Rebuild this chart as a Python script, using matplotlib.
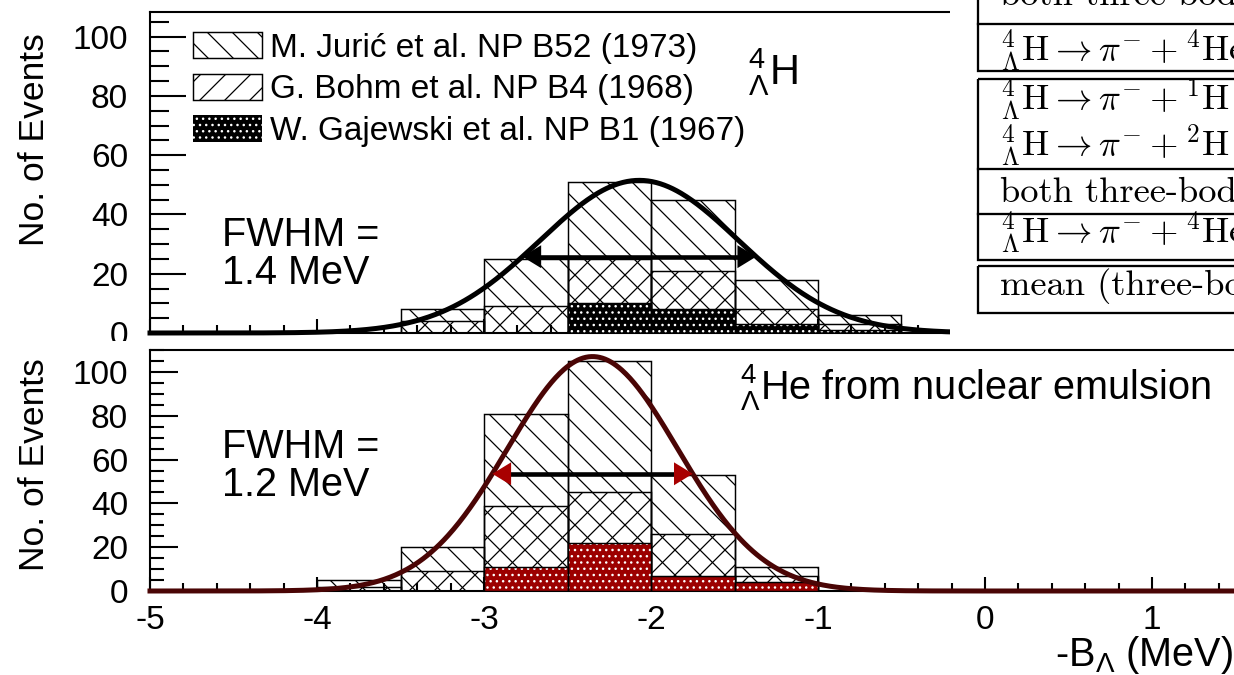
import numpy as np
import matplotlib
matplotlib.use("Agg")
import matplotlib.pyplot as plt
from matplotlib.patches import Rectangle
from matplotlib.ticker import MultipleLocator

# Binding energy bins (MeV), 0.5 MeV wide
bin_left = [-4.0, -3.5, -3.0, -2.5, -2.0, -1.5, -1.0]
bin_width = 0.5

# 4-Lambda-H: events per bin for each emulsion experiment
h_juric = [0, 4, 16, 26, 24, 10, 3]
h_bohm = [0, 4, 9, 15, 13, 5, 2]
h_gajewski = [0, 0, 0, 10, 8, 3, 1]

# 4-Lambda-He: events per bin for each emulsion experiment
he_juric = [3, 11, 42, 60, 27, 4, 0]
he_bohm = [2, 9, 28, 23, 19, 3, 0]
he_gajewski = [0, 0, 11, 22, 7, 4, 0]

# Gaussian fits: mean, peak height, FWHM
h_fit = (-2.07, 51.5, 1.4)
he_fit = (-2.35, 107.0, 1.2)

labels = ["M. Jurić et al. NP B52 (1973)",
          "G. Bohm et al. NP B4 (1968)",
          "W. Gajewski et al. NP B1 (1967)"]

plt.rcParams["font.family"] = "Liberation Sans"
plt.rcParams["mathtext.fontset"] = "custom"
plt.rcParams["mathtext.rm"] = "Liberation Sans"
plt.rcParams["mathtext.it"] = "Liberation Sans:italic"
plt.rcParams["hatch.linewidth"] = 0.6
plt.rcParams["axes.unicode_minus"] = False

W, H = 1235, 675
DPI = 150
fig = plt.figure(figsize=(W / DPI, H / DPI), dpi=DPI)


def px_axes(x0, y0, x1, y1):
    return fig.add_axes([x0 / W, 1 - y1 / H, (x1 - x0) / W, (y1 - y0) / H])


XMIN, XMAX = -5, 1.6
x_right = 150 + (XMAX - XMIN) * 167
ax_top = px_axes(150, 12, x_right, 333)
ax_bot = px_axes(150, 350, x_right, 591)


def draw_panel(ax, juric, bohm, gaj, fit, dot_color, curve_color, head_color):
    lower = np.asarray(gaj)
    middle = lower + np.asarray(bohm)
    total = middle + np.asarray(juric)
    centers = np.asarray(bin_left) + bin_width / 2

    b1 = ax.bar(centers, total, width=bin_width, fill=False, hatch="\\\\",
                edgecolor="black", lw=0.7, zorder=2)
    b2 = ax.bar(centers, middle, width=bin_width, fill=False, hatch="//",
                edgecolor="black", lw=0.7, zorder=2)
    b3 = ax.bar(centers, lower, width=bin_width, facecolor=dot_color,
                edgecolor="white", hatch="....", lw=0, zorder=3)
    ax.bar(centers, lower, width=bin_width, fill=False, edgecolor="black",
           lw=0.7, zorder=3)

    mu, amp, fwhm = fit
    sigma = fwhm / (2 * np.sqrt(2 * np.log(2)))
    xs = np.linspace(XMIN, XMAX, 800)
    ax.plot(xs, amp * np.exp(-0.5 * ((xs - mu) / sigma) ** 2),
            color=curve_color, lw=2.4, zorder=5, clip_on=False)

    # FWHM arrow at half maximum
    half = amp / 2
    xl, xr = mu - fwhm / 2, mu + fwhm / 2
    ax.plot([xl + 0.08, xr - 0.08], [half, half], color="black", lw=2.2,
            zorder=6, solid_capstyle="butt")
    for tip, tail in ((xl, xl + 0.2), (xr, xr - 0.2)):
        ax.annotate("", xy=(tip, half), xytext=(tail, half),
                    arrowprops=dict(arrowstyle="-|>,head_length=0.9,head_width=0.55",
                                    mutation_scale=10, fc=head_color, ec=head_color,
                                    lw=0, shrinkA=0, shrinkB=0), zorder=7)
    return b1, b2, b3


bars = draw_panel(ax_top, h_juric, h_bohm, h_gajewski, h_fit,
                  "black", "black", "black")
draw_panel(ax_bot, he_juric, he_bohm, he_gajewski, he_fit,
           "#9c0000", "#4a0505", "#a80000")

for ax, ymax, major_len, minor_len in ((ax_top, 108.3, 17.5, 9), (ax_bot, 110, 13.5, 6.7)):
    ax.set_xlim(XMIN, XMAX)
    ax.set_ylim(0, ymax)
    ax.xaxis.set_major_locator(MultipleLocator(1))
    ax.xaxis.set_minor_locator(MultipleLocator(0.2))
    ax.yaxis.set_major_locator(MultipleLocator(20))
    ax.yaxis.set_minor_locator(MultipleLocator(5))
    ax.tick_params(which="both", direction="in", width=1.0, top=False, right=False)
    ax.tick_params(axis="y", which="major", length=major_len, labelsize=16, pad=10.5)
    ax.tick_params(axis="y", which="minor", length=minor_len)
    ax.tick_params(axis="x", which="major", length=6.5, labelsize=16, pad=6.5)
    ax.tick_params(axis="x", which="minor", length=3.8)
    for s in ax.spines.values():
        s.set_linewidth(1.0)
    ax.set_facecolor("white")

ax_top.tick_params(labelbottom=False)

ax_top.legend(bars, labels, loc="upper left", bbox_to_anchor=(0.039, 0.938),
              frameon=False, fontsize=16, handlelength=2.07, handleheight=0.84,
              labelspacing=0.3, handletextpad=0.25, borderpad=0, borderaxespad=0)

ax_top.text(-4.57, 26.5, "FWHM =\n1.4 MeV", fontsize=19, va="center",
            ha="left", linespacing=1.0, zorder=8)
ax_bot.text(-4.57, 57, "FWHM =\n1.2 MeV", fontsize=19, va="center",
            ha="left", linespacing=1.0, zorder=8)
ax_top.text(-1.42, 88, r"${}^{4}_{\Lambda}$H", fontsize=20, va="center",
            ha="left", zorder=8)
ax_bot.text(-1.47, 93, r"${}^{4}_{\Lambda}$He from nuclear emulsion",
            fontsize=19, va="center", ha="left", zorder=8)

fig.text(35 / W, 1 - 140 / H, "No. of Events", rotation=90, fontsize=17,
         ha="center", va="center")
fig.text(35 / W, 1 - 465 / H, "No. of Events", rotation=90, fontsize=17,
         ha="center", va="center")
fig.text(1233 / W, 1 - 655 / H, r"-B$_{\Lambda}$ (MeV)", fontsize=19,
         ha="right", va="center")

# lower pad hides whatever of the upper pad hangs below it
fig.add_artist(Rectangle((0, 0), 1, 1 - 341 / H, transform=fig.transFigure,
                         facecolor="white", edgecolor="none", zorder=1))
ax_top.set_zorder(0)
ax_bot.set_zorder(2)

# decay-channel table in the upper right corner
tab = px_axes(950, 0, W, 343)
tab.set_zorder(3)
tab.set_xlim(950, W)
tab.set_ylim(343, 0)
tab.set_xticks([])
tab.set_yticks([])
for s in tab.spines.values():
    s.set_visible(False)
tab.set_facecolor("white")

boxes = [(-20, 70.7, [24]), (79.3, 260, [169, 214]), (266, 313, [])]
for top, bottom, seps in boxes:
    tab.add_patch(Rectangle((978, top), 400, bottom - top, fill=False,
                            edgecolor="black", lw=1.1))
    for yy in seps:
        tab.plot([978, 1400], [yy, yy], color="black", lw=1.1)

rows = [
    (5, "both three-body decays", False),
    (61.7, r"${}^{4}_{\Lambda}\mathrm{H} \rightarrow \pi^{-} + {}^{4}\mathrm{He}$", True),
    (110, r"${}^{4}_{\Lambda}\mathrm{H} \rightarrow \pi^{-} + {}^{1}\mathrm{H} + {}^{3}\mathrm{H}$", True),
    (156, r"${}^{4}_{\Lambda}\mathrm{H} \rightarrow \pi^{-} + {}^{2}\mathrm{H} + {}^{2}\mathrm{H}$", True),
    (201.7, "both three-body decays", False),
    (243, r"${}^{4}_{\Lambda}\mathrm{H} \rightarrow \pi^{-} + {}^{4}\mathrm{He}$", True),
    (295, "mean (three-body decays)", False),
]
for yy, txt, is_math in rows:
    if is_math:
        tab.text(1000, yy, txt, fontsize=17.5, va="baseline", ha="left",
                 math_fontfamily="cm")
    else:
        tab.text(1000, yy, txt, fontsize=17.5, va="baseline", ha="left",
                 family="cmr10")

fig.savefig("out.png", dpi=DPI)
